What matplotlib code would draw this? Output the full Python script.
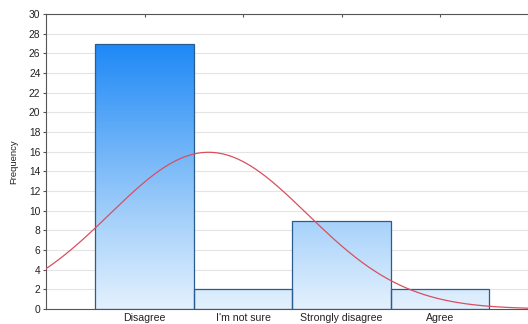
import numpy as np
import matplotlib
matplotlib.use("Agg")
import matplotlib.pyplot as plt
from matplotlib.colors import LinearSegmentedColormap

categories = ["Disagree", "I'm not sure", "Strongly disagree", "Agree"]
codes = [1, 2, 3, 4]
counts = [27, 2, 9, 2]
yticks = list(range(0, 31, 2))

plt.rcParams['font.family'] = ['Liberation Sans', 'DejaVu Sans']

fig = plt.figure(figsize=(5.28, 3.24), dpi=100)
ax = fig.add_axes([46/528, 15/324, (528-46)/528 + 0.02, (309-14)/324])

xlim = (0.0, 5.0)
ylim = (0, 30)
ax.set_xlim(*xlim)
ax.set_ylim(*ylim)

# grid
ax.set_yticks(yticks)
ax.yaxis.grid(True, color='#e4e4e4', linewidth=0.8)
ax.set_axisbelow(True)

cmap = LinearSegmentedColormap.from_list(
    'b', [(0.0, '#e4f1fe'), (0.33, '#a6d1fa'), (1.0, '#1b87f6')])
grad = np.linspace(0, 1, 256).reshape(-1, 1)

bars = ax.bar(codes, counts, width=1.0, facecolor='none', edgecolor='#2b5c8e', linewidth=0.9, zorder=3)
for b in bars:
    im = ax.imshow(grad, cmap=cmap, origin='lower', aspect='auto',
                   extent=[xlim[0], xlim[1], 0, 27.3], zorder=2, vmin=0, vmax=1)
    im.set_clip_path(b)
ax.set_xlim(*xlim)
ax.set_ylim(*ylim)

# fitted normal curve from the data
n = sum(counts)
mean = sum(c * k for c, k in zip(codes, counts)) / n
var = sum(k * (c - mean) ** 2 for c, k in zip(codes, counts)) / (n - 1)
sd = np.sqrt(var)
xs = np.linspace(xlim[0], xlim[1], 400)
ys = n * 1.0 / (sd * np.sqrt(2 * np.pi)) * np.exp(-0.5 * ((xs - mean) / sd) ** 2)
ax.plot(xs, ys, color='#d8505f', linewidth=0.9, zorder=4)

ax.set_xticks(codes)
ax.set_xticklabels(categories, fontsize=7.6, color='#222222')
ax.set_yticklabels([str(v) for v in yticks], fontsize=7.4, color='#222222')
ax.tick_params(axis='x', direction='in', length=2, top=True, color='#555555', pad=3)
ax.tick_params(axis='y', direction='out', length=2, color='#555555', pad=2)
ax.set_ylabel('Frequency', fontsize=6.8, color='#222222', labelpad=8)

for s in ['left', 'bottom', 'top']:
    ax.spines[s].set_color('#555555')
    ax.spines[s].set_linewidth(0.8)
ax.spines['right'].set_visible(False)

fig.savefig('out.png', dpi=100)
